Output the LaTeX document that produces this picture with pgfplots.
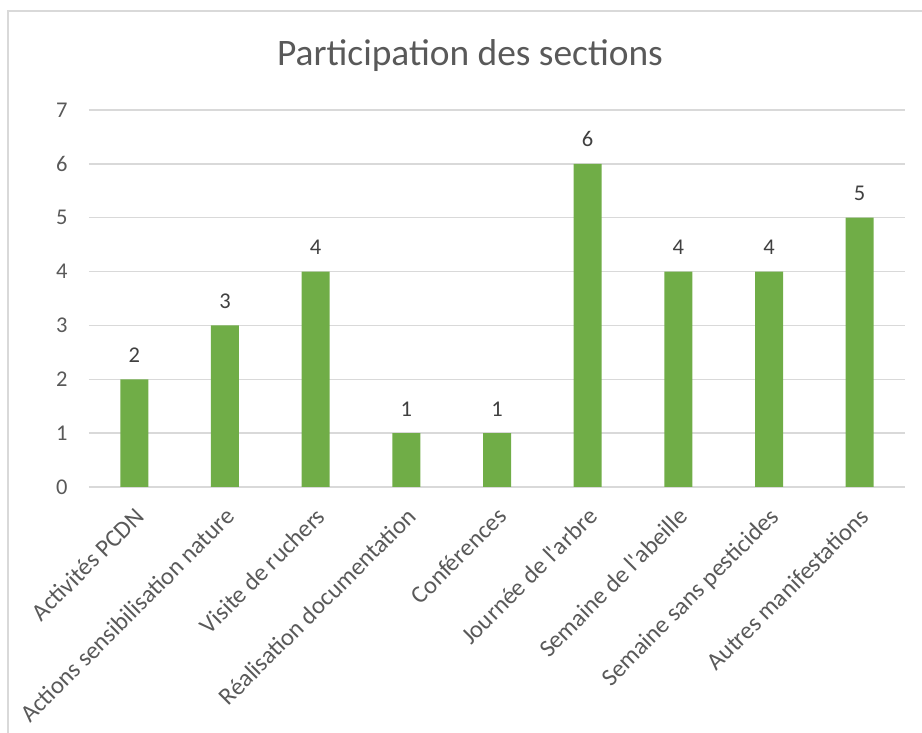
\documentclass[border=0pt]{standalone}
\usepackage{fontspec}
\setmainfont{Carlito}[Ligatures=TeXOff]
\usepackage{pgfplots}
\pgfplotsset{compat=1.18}
\definecolor{barvert}{HTML}{70AD47}
\definecolor{grille}{HTML}{D9D9D9}
\definecolor{texte}{HTML}{595959}
\definecolor{etiq}{HTML}{404040}

\begin{document}
\begin{tikzpicture}
\begin{axis}[
  scale only axis,
  width=816pt, height=377pt,
  ybar, bar width=28pt, bar shift=0pt,
  xmin=-0.5, xmax=8.5,
  ymin=0, ymax=7,
  ytick={0,1,2,3,4,5,6,7},
  xtick=data,
  xticklabels={Activités PCDN,Actions sensibilisation nature,Visite de ruchers,Réalisation documentation,Conférences,Journée de l'arbre,Semaine de l'abeille,Semaine sans pesticides,Autres manifestations},
  /pgf/number format/assume math mode=true,
  major tick length=0pt,
  axis line style={draw=none},
  ymajorgrids,
  grid style={draw=grille, line width=1.3pt},
  tick label style={font=\fontsize{22.5}{26}\selectfont, text=texte},
  yticklabel style={anchor=east, xshift=-18pt},
  xticklabel style={font=\fontsize{24.5}{28}\selectfont, xshift=-1pt, yshift=-19pt, rotate=45, anchor=north east, inner sep=0pt},
  nodes near coords,
  nodes near coords style={font=\fontsize{22.5}{26}\selectfont, text=etiq, anchor=base, inner sep=0pt, yshift=17pt},
]
\addplot[fill=barvert, draw=none] coordinates {
  (0,2) (1,3) (2,4) (3,1) (4,1) (5,6) (6,4) (7,4) (8,5)
};
\end{axis}
\node[anchor=base, text=texte, font=\fontsize{37.4}{42}\selectfont] at (381pt,421pt) {Participation des sections};
\draw[grille, line width=1.3pt] (-81pt,-246pt) -- (-81pt,476pt) -- (833pt,476pt);
\pgfresetboundingbox
\path[use as bounding box] (-89pt,-246pt) rectangle (833pt,487pt);
\end{tikzpicture}
\end{document}
